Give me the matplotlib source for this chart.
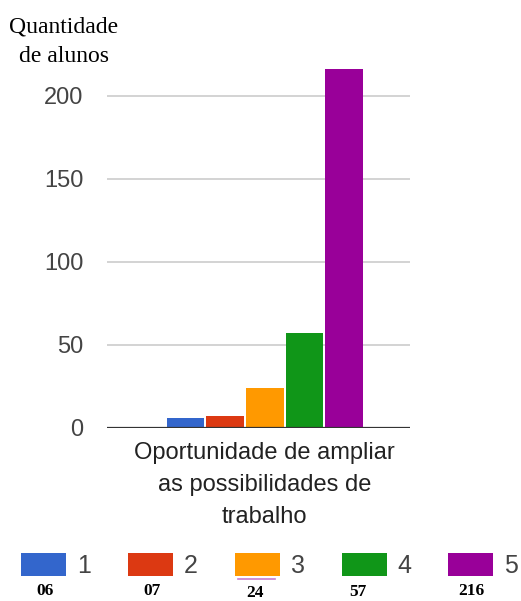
import matplotlib
matplotlib.use("Agg")
import matplotlib.pyplot as plt
from matplotlib.patches import Rectangle
from matplotlib.lines import Line2D

# ---- data ----
category = "Oportunidade de ampliar\nas possibilidades de\ntrabalho"
series_names = ["1", "2", "3", "4", "5"]
values = [6, 7, 24, 57, 216]
colors = ["#3366cc", "#dc3912", "#ff9900", "#109618", "#990099"]
yticks = [0, 50, 100, 150, 200]
ylabel_lines = ["Quantidade", "de alunos"]

W, H = 521, 601
fig = plt.figure(figsize=(W / 100, H / 100), dpi=100)

def fx(x):
    return x / W

def fy(y):
    return 1 - y / H

# axes geometry in pixels
ax_left, ax_right, ax_base = 107, 410, 428
px_per_unit = (428 - 95.5) / 200
ymax = 220
ax_top = ax_base - ymax * px_per_unit
ax = fig.add_axes([fx(ax_left), fy(ax_base), (ax_right - ax_left) / W, (ax_base - ax_top) / H])

# bars
step = 0.1308
first = 0.259
width = 0.124
xs = [first + step * i for i in range(len(values))]
ax.bar(xs, values, width=width, color=colors, zorder=3, linewidth=0)
ax.set_xlim(0, 1)
ax.set_ylim(0, ymax)

# grid & spines
ax.set_yticks(yticks)
for t in yticks[1:]:
    ax.axhline(t, color="#cccccc", lw=1.2, zorder=1)
ax.axhline(0, color="#333333", lw=1.6, zorder=4)
for s in ax.spines.values():
    s.set_visible(False)
ax.tick_params(axis="y", length=0, pad=17, labelsize=17, labelcolor="#444444")
for lab in ax.get_yticklabels():
    lab.set_fontfamily("Liberation Sans")

group_center = (xs[0] + xs[-1]) / 2
ax.set_xticks([group_center])
ax.set_xticklabels([category], fontfamily="Liberation Sans", fontsize=17,
                   color="#222222", linespacing=1.6)
ax.tick_params(axis="x", length=0, pad=10)

# y axis title (serif)
fig.text(fx(64), fy(33), ylabel_lines[0], ha="center", va="baseline",
         fontfamily="Liberation Serif", fontsize=17, color="black")
fig.text(fx(64), fy(62), ylabel_lines[1], ha="center", va="baseline",
         fontfamily="Liberation Serif", fontsize=17, color="black")

# legend
sw_left = [20.7, 127.7, 235, 341.7, 448]
sw_w, sw_top, sw_bot = 45, 552.7, 575.7
val_centers = [44.7, 151.7, 254.7, 358.3, 471.7]
val_base = [595, 595, 597, 596, 595]
for i, name in enumerate(series_names):
    fig.patches.append(Rectangle((fx(sw_left[i]), fy(sw_bot)), sw_w / W, (sw_bot - sw_top) / H,
                                 transform=fig.transFigure, facecolor=colors[i],
                                 edgecolor="none", figure=fig))
    fig.text(fx(sw_left[i] + sw_w + 11), fy(573.3), name, ha="left", va="baseline",
             fontfamily="Liberation Sans", fontsize=18, color="#444444")
    fig.text(fx(val_centers[i]), fy(val_base[i]), f"{values[i]:02d}", ha="center",
             va="baseline", fontfamily="Liberation Serif", fontweight="bold",
             fontsize=12.5, color="black")

# small stray line under the orange swatch
fig.lines.append(Line2D([fx(238.3), fx(275)], [fy(578.5), fy(578.5)],
                        transform=fig.transFigure, color="#c77dd0", lw=1.2))

fig.savefig("out.png", dpi=100)
